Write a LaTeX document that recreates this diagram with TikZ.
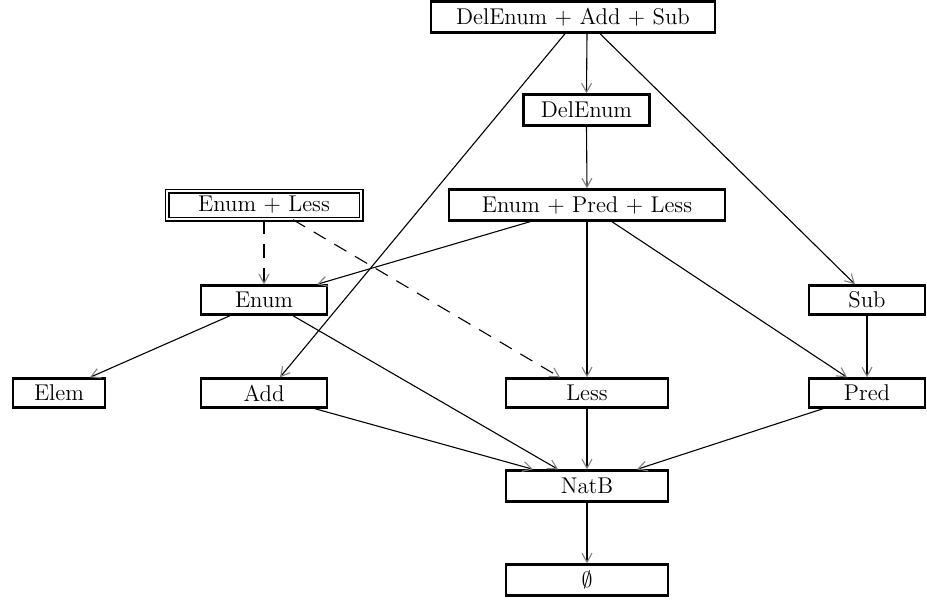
\documentclass[tikz,border=0pt]{standalone}
\usetikzlibrary{arrows.meta}
\begin{document}
\begin{tikzpicture}[x=0.5pt,y=-0.5pt,
  box/.style={draw=black,line width=1.2pt,fill=white,inner sep=0pt,font=\fontsize{11.4}{13}\selectfont,minimum height=15.5pt},
  dbox/.style={draw=black,line width=0.7pt,double=white,double distance=1.1pt,inner sep=0pt,font=\fontsize{11.4}{13}\selectfont,minimum height=14pt},
  edge/.style={line width=0.55pt,-{Straight Barb[length=4.5pt,width=5pt,color=gray]}},
  dedge/.style={edge,dash pattern=on 7pt off 5pt}]
\useasboundingbox (0,0) rectangle (927,601);
\node[box,minimum width=142pt] (top) at (573,17) {DelEnum + Add + Sub};
\node[box,minimum width=63pt] (del) at (586.5,110) {DelEnum};
\node[dbox,minimum width=97pt] (el) at (264,205) {Enum + Less};
\node[box,minimum width=138pt] (epl) at (587,205) {Enum + Pred + Less};
\node[box,minimum width=63pt,minimum height=14.5pt] (enum) at (264,300) {Enum};
\node[box,minimum width=58pt,minimum height=14.5pt] (sub) at (867,300) {Sub};
\node[box,minimum width=46pt,minimum height=14.5pt] (elem) at (59,393) {Elem};
\node[box,minimum width=63pt,minimum height=14.5pt] (add) at (264,393) {Add};
\node[box,minimum width=81pt,minimum height=14.5pt] (less) at (587,393) {Less};
\node[box,minimum width=58pt,minimum height=14.5pt] (pred) at (867,393) {Pred};
\node[box,minimum width=81pt] (natb) at (587,486) {NatB};
\node[box,minimum width=81pt] (empty) at (587,580) {$\emptyset$};
\draw[edge] ([xshift=7pt]top.south) -- (del.north);
\draw[edge] ([xshift=-4pt]top.south) -- ([xshift=8pt]add.north);
\draw[edge] ([xshift=13.5pt]top.south) -- ([xshift=-6pt]sub.north);
\draw[edge] (del.south) -- (epl.north);
\draw[edge] ([xshift=-28.5pt]epl.south) -- ([xshift=26.5pt]enum.north);
\draw[edge] (epl.south) -- (less.north);
\draw[edge] ([xshift=12.5pt]epl.south) -- ([xshift=-10pt]pred.north);
\draw[dedge] (el.south) -- (enum.north);
\draw[dedge] ([xshift=14.5pt]el.south) -- ([xshift=-13.5pt]less.north);
\draw[edge] ([xshift=-17pt]enum.south) -- ([xshift=15.5pt]elem.north);
\draw[edge] ([xshift=14.5pt]enum.south) -- ([xshift=-14.5pt]natb.north);
\draw[edge] ([xshift=25.5pt]add.south) -- ([xshift=-27pt]natb.north);
\draw[edge] (less.south) -- (natb.north);
\draw[edge] ([xshift=-22pt]pred.south) -- ([xshift=25pt]natb.north);
\draw[edge] (sub.south) -- (pred.north);
\draw[edge] (natb.south) -- (empty.north);
\end{tikzpicture}
\end{document}
